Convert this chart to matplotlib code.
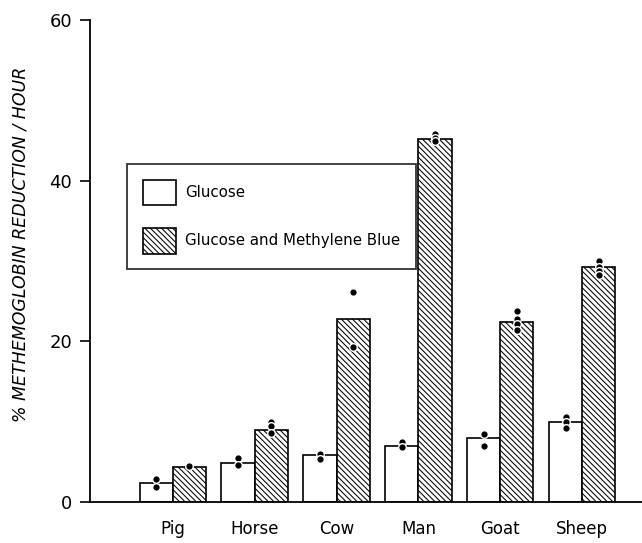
import matplotlib
matplotlib.use("Agg")
import matplotlib.pyplot as plt
from matplotlib.patches import Patch
import numpy as np

categories = ["Pig", "Horse", "Cow", "Man", "Goat", "Sheep"]
glucose = [2.4, 4.9, 5.8, 7.0, 8.0, 10.0]
glucose_mb = [4.4, 9.0, 22.8, 45.2, 22.4, 29.3]
glucose_pts = [[2.9, 1.9], [5.5, 4.6], [6.0, 5.3], [7.5, 6.8], [8.5, 7.0], [10.6, 9.9, 9.2]]
glucose_mb_pts = [[4.5], [9.9, 9.4, 8.6], [26.2, 19.3], [45.8, 45.3, 45.0],
                  [23.8, 22.8, 22.1, 21.4], [30.0, 29.3, 28.7, 28.3]]
yticks = [0, 20, 40, 60]

fig = plt.figure(figsize=(6.42, 5.43), dpi=100)
ax = fig.add_axes([90/642, 41/543, 552/642, 482/543])

x = np.arange(len(categories))
w = 0.405
plt.rcParams['hatch.linewidth'] = 0.75
HATCH = "\\\\\\\\\\\\"

ax.bar(x - w/2, glucose, width=w, facecolor="white", edgecolor="black",
       linewidth=1.2, zorder=2)
ax.bar(x + w/2, glucose_mb, width=w, facecolor="white", edgecolor="black",
       hatch=HATCH, linewidth=1.2, zorder=2)

for i in range(len(categories)):
    ax.plot([x[i] - w/2] * len(glucose_pts[i]), glucose_pts[i], "o", color="black",
            mec="white", mew=1.0, ms=5.5, zorder=4, clip_on=False)
    ax.plot([x[i] + w/2] * len(glucose_mb_pts[i]), glucose_mb_pts[i], "o", color="black",
            mec="white", mew=1.0, ms=5.5, zorder=4, clip_on=False)

ax.set_xlim(-1.01, 5.73)
ax.set_ylim(0, 60)
ax.set_yticks(yticks)
ax.set_yticklabels([str(t) for t in yticks], fontsize=13)
ax.set_xticks(x)
ax.set_xticklabels(categories, fontsize=12)
ax.tick_params(axis="x", length=0, pad=13)
ax.tick_params(axis="y", direction="out", length=7, width=1.2, pad=6)

for s in ["top", "right"]:
    ax.spines[s].set_visible(False)
ax.spines["left"].set_linewidth(1.3)
ax.spines["bottom"].set_linewidth(1.3)

ax.set_ylabel("% METHEMOGLOBIN REDUCTION / HOUR", fontsize=12.5, style="italic")
ax.yaxis.set_label_coords(-0.11, 0.535)

handles = [Patch(facecolor="white", edgecolor="black", linewidth=1.2),
           Patch(facecolor="white", edgecolor="black", linewidth=1.2, hatch=HATCH)]
leg = ax.legend(handles, ["Glucose", "Glucose and Methylene Blue"],
                loc="upper left", bbox_to_anchor=(0.067, 0.701), fontsize=10.8,
                handlelength=2.25, handleheight=2.25, labelspacing=1.5,
                handletextpad=0.6, borderpad=1.05, fancybox=False, frameon=True,
                borderaxespad=0)
leg.get_frame().set_edgecolor("black")
leg.get_frame().set_linewidth(1.3)
leg.set_zorder(5)

fig.savefig("out.png", dpi=100)
